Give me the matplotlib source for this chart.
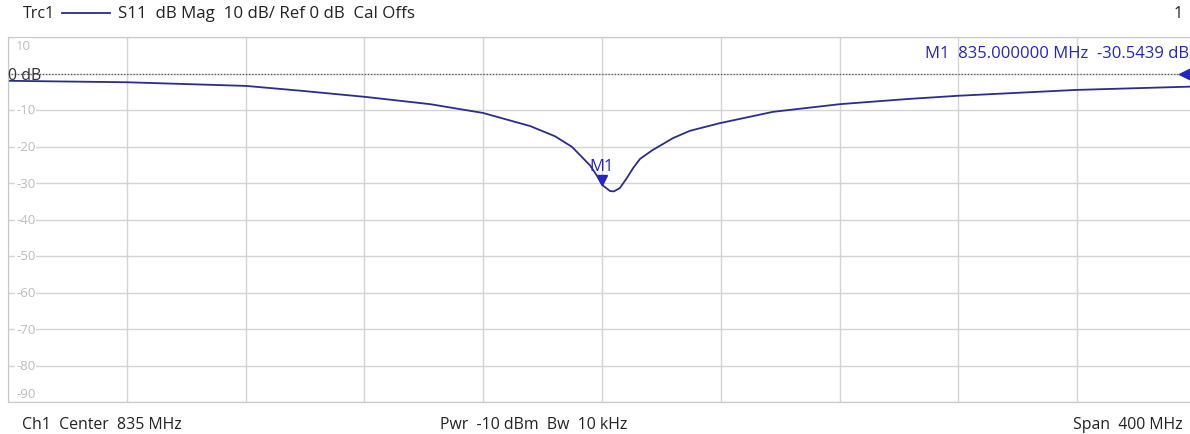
import matplotlib.pyplot as plt
import matplotlib.lines as mlines

plt.rcParams['font.family'] = ['Open Sans', 'DejaVu Sans']

# === Data ===
freq_mhz = [635.0, 675.1, 715.1, 733.3, 755.2, 777.1, 794.9, 810.8, 819.2, 824.9,
            831.0, 833.3, 835.0, 837.7, 839.0, 841.0, 843.4, 845.4, 847.8, 851.8,
            858.9, 864.6, 874.7, 892.6, 915.1, 937.7, 954.9, 994.6, 1033.0, 1035.0]
s11_db = [-2.0, -2.4, -3.4, -4.7, -6.4, -8.4, -10.8, -14.4, -17.2, -20.1,
          -25.2, -28.0, -30.5, -32.2, -32.3, -31.4, -28.6, -26.0, -23.4, -21.1,
          -17.7, -15.7, -13.6, -10.5, -8.4, -7.0, -6.1, -4.5, -3.6, -3.5]
marker_freq = 835.0
marker_db = -30.5439
y_ticks = [10, 0, -10, -20, -30, -40, -50, -60, -70, -80, -90]

trace_color = '#2b2b92'
label_color = '#2424c8'
text_color = '#222222'

fig = plt.figure(figsize=(11.9, 4.35), dpi=100)
# axes spans slightly past the right edge like the screenshot
ax = fig.add_axes([8 / 1190, (435 - 403) / 435, 1188 / 1190, 365 / 435])

ax.set_xlim(635, 1035)
ax.set_ylim(-90, 10)
ax.set_xticks([635 + 40 * i for i in range(11)])
ax.set_yticks(y_ticks)
ax.grid(True, color='#d4d4d4', linewidth=1.0)
ax.tick_params(left=False, bottom=False, labelleft=False, labelbottom=False)
for s in ax.spines.values():
    s.set_color('#c8c8c8')

# reference line
ax.axhline(0, color='#555555', linestyle=(0, (1, 1.5)), linewidth=0.9)

ax.plot(freq_mhz, s11_db, color=trace_color, linewidth=1.3)

# y labels inside the grid
for v in y_ticks:
    if v == 0:
        ax.text(635.1, -0.4, '0 dB', color='#333333', fontsize=11.5,
                va='center', ha='left')
        continue
    yy = v
    if v == 10:
        yy = 7.6
    if v == -90:
        yy = -87.8
    ax.text(637.7, yy, str(v), color='#bcbcbc', fontsize=9.5, va='center', ha='left',
            bbox=dict(facecolor='white', edgecolor='none', pad=0.6))

# marker M1
ax.plot([marker_freq], [marker_db + 1.4], marker='v', color=label_color,
        markersize=7.5, linestyle='none')
ax.text(marker_freq, marker_db + 3.0, 'M1', color=label_color, fontsize=12,
        ha='center', va='bottom')
# reference level arrow at right
ax.plot([1031.4], [0], marker='<', color=label_color, markersize=9,
        linestyle='none', clip_on=False)
ax.text(1032.5, 5.6, 'M1  835.000000 MHz  -30.5439 dB', color=label_color,
        fontsize=12, ha='right', va='center')

# header and footer text
fig.text(23 / 1190, 1 - 14 / 435, 'Trc1', fontsize=11.5, color=text_color, va='center')
fig.add_artist(mlines.Line2D([62 / 1190, 110 / 1190], [1 - 14 / 435] * 2,
                             color=trace_color, linewidth=1.3))
fig.text(118 / 1190, 1 - 14 / 435, 'S11  dB Mag  10 dB/ Ref 0 dB  Cal Offs',
         fontsize=12.2, color=text_color, va='center')
fig.text(1183 / 1190, 1 - 14 / 435, '1', fontsize=11.5, color=text_color,
         va='center', ha='right')

fig.text(22 / 1190, 1 - 425 / 435, 'Ch1  Center  835 MHz', fontsize=11.4,
         color=text_color, va='center')
fig.text(440 / 1190, 1 - 425 / 435, 'Pwr  -10 dBm  Bw  10 kHz', fontsize=11.4,
         color=text_color, va='center')
fig.text(1183 / 1190, 1 - 425 / 435, 'Span  400 MHz', fontsize=11.4,
         color=text_color, va='center', ha='right')

plt.savefig('out.png', dpi=100)
